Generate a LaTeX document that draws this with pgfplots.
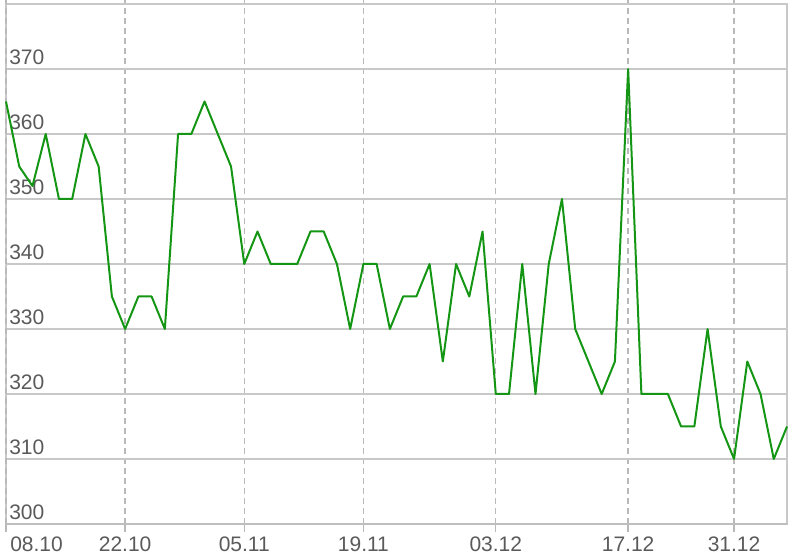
\documentclass[border=0pt]{standalone}
\usepackage{pgfplots}
\pgfplotsset{compat=1.18}
\usepackage{fontspec}
\setmainfont{Liberation Sans}
\definecolor{linegreen}{RGB}{20,150,20}
\definecolor{gridgray}{RGB}{200,200,200}
\definecolor{axisgray}{RGB}{190,190,190}
\definecolor{dashgray}{RGB}{185,185,185}
\definecolor{labelgray}{RGB}{90,90,90}
\begin{document}
\begin{tikzpicture}
\begin{axis}[
  scale only axis,
  width=585.75pt, height=390pt,
  xmin=0, xmax=59, ymin=300, ymax=380,
  ytick={300,310,...,370},
  xtick={9,18,27,37,47,55},
  xticklabels={22.10,05.11,19.11,03.12,17.12,31.12},
  extra x ticks={0},
  extra x tick labels={08.10},
  extra x tick style={xticklabel style={anchor=north west, xshift=3pt}},
  xmajorgrids, ymajorgrids,
  x grid style={dashgray, line width=1pt, dash pattern=on 4.5pt off 3pt},
  y grid style={gridgray, line width=1.2pt},
  axis line style={gridgray, line width=1.2pt},
  tick align=outside,
  major tick length=6pt,
  xtick style={dashgray, line width=1pt},
  ytick style={draw=none},
  ticklabel style={font=\fontsize{15.75}{18}\selectfont, text=labelgray},
  yticklabel style={anchor=south west, inner sep=0pt, xshift=8.25pt, yshift=3.3pt},
  xticklabel style={anchor=north, inner sep=0pt, yshift=-3.2pt},
  /pgf/number format/assume math mode=true,
  clip=false,
]
\coordinate (sw) at (rel axis cs:0,0);
\coordinate (ne) at (rel axis cs:1,1);
\addplot[linegreen, line width=1.5pt, mark=none, line join=round] coordinates {
(0,365) (1,355) (2,352) (3,360) (4,350) (5,350) (6,360) (7,355) (8,335) (9,330)
(10,335) (11,335) (12,330) (13,360) (14,360) (15,365) (16,360) (17,355) (18,340) (19,345)
(20,340) (21,340) (22,340) (23,345) (24,345) (25,340) (26,330) (27,340) (28,340) (29,330)
(30,335) (31,335) (32,340) (33,325) (34,340) (35,335) (36,345) (37,320) (38,320) (39,340)
(40,320) (41,340) (42,350) (43,330) (44,325) (45,320) (46,325) (47,370) (48,320) (49,320)
(50,320) (51,315) (52,315) (53,330) (54,315) (55,310) (56,325) (57,320) (58,310) (59,315)
};
\draw[axisgray, line width=1.7pt] (rel axis cs:0,0) -- (rel axis cs:1,0);
\end{axis}
\pgfresetboundingbox
\path[use as bounding box] ([shift={(-4.5pt,-23.25pt)}]sw) rectangle ([shift={(5.25pt,3pt)}]ne);
\end{tikzpicture}
\end{document}
